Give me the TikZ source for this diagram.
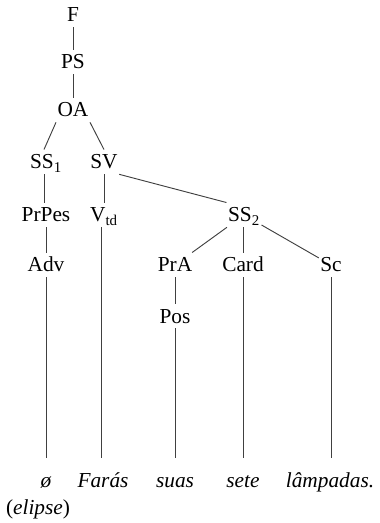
\documentclass[tikz,border=0pt]{standalone}
\usepackage{fontspec}
\setmainfont{Liberation Serif}
\begin{document}
\begin{tikzpicture}[x=0.75pt,y=-0.75pt,
  lab/.style={anchor=base,inner xsep=1pt,inner ysep=3.8pt,text height=10.6pt,text depth=0pt,font=\fontsize{16pt}{19pt}\selectfont},
  leaf/.style={lab,text height=18pt,font=\fontsize{16pt}{19pt}\selectfont\itshape},
  edge/.style={draw=black!75,line width=0.7pt}]
\useasboundingbox (0,0) rectangle (379,523);
\node[lab] (f) at (73,22) {F};
\node[lab] (ps) at (73,69) {PS};
\node[lab] (oa) at (73,117) {OA};
\node[lab] (ss1) at (46,169) {SS\textsubscript{1}};
\node[lab] (sv) at (104,169) {SV};
\node[lab] (prpes) at (46,222) {PrPes};
\node[lab] (vtd) at (104,222) {V\textsubscript{td}};
\node[lab] (ss2) at (244,222) {SS\textsubscript{2}};
\node[lab] (adv) at (46,272) {Adv};
\node[lab] (pra) at (175,272) {PrA};
\node[lab] (card) at (243,272) {Card};
\node[lab] (sc) at (331,272) {Sc};
\node[lab] (pos) at (175,323) {Pos};
\node[leaf] (zero) at (46,487) {ø};
\node[leaf] (faras) at (103,487) {Farás};
\node[leaf] (suas) at (175,487) {suas};
\node[leaf] (sete) at (243,487) {sete};
\node[leaf] (lamp) at (330,487) {lâmpadas.};
\node[lab] (elip) at (38,514) {(\textit{elipse})};
\path[edge] (f) -- (ps);
\path[edge] (ps) -- (oa);
\path[edge] (oa.south west) -- ([xshift=-1.5pt]ss1.north);
\path[edge] (oa.south east) -- (sv.north);
\path[edge] ([xshift=-1.5pt]ss1.south) -- ([xshift=-1.5pt]ss1.south |- prpes.north);
\path[edge] (sv.south) -- (vtd.north);
\path[edge] (sv.south east) -- (ss2.north west);
\path[edge] (prpes) -- (adv);
\path[edge] ([xshift=-2pt]vtd.south) -- ([xshift=-2pt]vtd.south |- faras.north);
\path[edge] (ss2) -- (pra);
\path[edge] (ss2.south -| card) -- (card.north);
\path[edge] (ss2) -- (sc);
\path[edge] (pra) -- (pos);
\path[edge] (adv) -- (adv.south |- zero.north);
\path[edge] (pos) -- (pos.south |- suas.north);
\path[edge] (card) -- (card.south |- sete.north);
\path[edge] (sc) -- (sc.south |- lamp.north);
\end{tikzpicture}
\end{document}
